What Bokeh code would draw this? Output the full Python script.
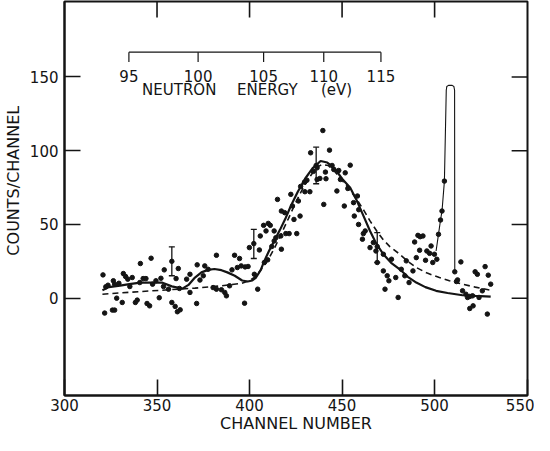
from bokeh.plotting import figure
from bokeh.models import Range1d, FixedTicker, ColumnDataSource, Whisker, TeeHead
from bokeh.embed import file_html
from bokeh.resources import INLINE
from bokeh.core.properties import value

# ---------------- data ----------------
channel = [
    320.8, 321.7, 322.3, 323.5, 325.9, 326.4, 327.1, 327.1, 328.2, 329.4,
    331.2, 331.8, 333.0, 334.2, 335.3, 336.6, 338.3, 339.3, 340.7, 341.0,
    342.5, 344.0, 344.6, 346.0, 346.8, 347.6, 349.4, 351.2, 352.1, 353.5,
    353.9, 356.2, 358.0, 358.0, 359.8, 360.3, 361.0, 361.5, 362.1, 362.5,
    366.0, 367.8, 367.8, 371.4, 371.7,
    373.2, 375.0, 375.8, 377.6, 380.3, 382.1, 382.1, 384.8, 386.6, 387.5,
    389.2, 390.5, 391.9, 393.4, 394.6, 395.5, 397.3, 397.6, 399.2, 399.9,
    402.3, 402.6, 404.4, 405.3, 405.8, 407.6, 408.0, 408.9, 409.8, 410.1,
    411.2, 412.0, 413.3, 413.3, 414.2, 415.1, 416.9, 417.2, 417.2, 419.0,
    419.6, 421.4, 422.3, 423.2, 424.0, 425.5, 426.4, 427.3, 427.6, 429.7,
    429.9, 431.0, 432.6, 433.0, 434.5, 436.0, 436.5, 436.5, 438.0, 439.6,
    440.1, 441.0, 441.3, 443.2, 444.6, 445.5, 447.2, 448.2, 449.1, 451.2,
    451.7, 453.1, 454.4, 456.2, 456.6, 458.3, 459.0, 458.9, 461.0, 461.5,
    462.5, 465.1, 466.9, 468.3, 469.0, 469.0,
    472.3, 472.3, 473.2, 474.4, 475.3, 476.7, 479.0, 480.3, 482.0, 483.9,
    484.7, 486.2, 488.3, 489.2, 490.1, 491.0, 491.9, 492.2, 493.7, 495.1,
    495.8, 497.3, 498.1, 499.0, 499.9, 501.2, 502.1, 503.2, 504.0, 505.3,
    510.9, 511.8, 512.4, 514.2, 515.1, 516.9, 517.8, 519.0, 519.0, 520.5,
    520.8, 521.9, 523.1, 524.0, 525.8, 527.3, 528.5, 529.0, 530.3,
]
counts = [
    15.8, -10.1, 7.7, 8.8, -8.1, 11.8, -8.1, 9.5, 0.0, 10.1,
    -2.9, 16.7, 14.7, 12.9, 7.9, 14.0, -2.9, -1.3, 10.6, 23.5,
    13.3, 13.3, -3.6, -5.2, 27.1, 9.5, 11.8, 0.3, 13.5, 7.9,
    19.2, 6.1, 25.0, -2.9, -5.6, 13.3, -9.2, 20.1, 6.6, -7.9,
    12.9, 16.2, 3.9, -3.6, 22.6,
    12.3, 15.2, 21.9, 19.6, 7.2, 29.1, 6.1, 5.7, 3.9, 1.6,
    8.4, 19.2, 29.1, 20.8, 26.9, 21.9, -3.4, 21.2, 21.5, 34.3,
    37.0, 16.2, 6.1, 32.7, 42.2, 49.4, 24.2, 45.6, 26.0, 50.7,
    49.4, 35.0, 45.6, 38.8, 41.0, 67.0, 42.2, 33.2, 59.1, 58.0,
    43.8, 43.8, 70.4, 62.5, 53.4, 43.8, 65.9, 55.7, 75.8, 78.7,
    72.2, 80.0, 72.2, 98.6, 86.0, 90.0, 80.5, 88.4, 81.2, 113.7,
    63.6, 85.5, 81.0, 100.4, 90.0, 87.3, 72.7, 86.6, 80.5, 62.5,
    85.0, 74.4, 90.2, 64.8, 55.7, 69.3, 60.0, 50.0, 40.0, 43.8,
    45.6, 34.3, 37.7, 32.0, 24.2, 35.0,
    29.8, 18.5, 6.1, 15.2, 11.8, 26.4, 14.0, 0.5, 19.6, 15.2,
    25.3, 10.6, 18.5, 38.1, 27.5, 42.6, 32.5, 41.7, 42.2, 25.7,
    32.0, 30.4, 35.4, 24.2, 29.8, 26.4, 43.3, 53.0, 59.1, 79.4,
    17.9, 11.3, 12.4, 24.6, 5.0, 2.7, 0.5, 1.2, -7.0, 1.6,
    -5.2, 17.9, 16.2, 0.5, 5.0, 21.4, -10.8, 15.6, 9.5,
]

solid_channel = [320.5, 324, 330, 335, 341, 347, 352.6, 358, 363.7, 367, 370.5, 374,
                 377.6, 381, 384.8, 388, 392, 396, 399, 401.5, 403.5, 406, 408, 410.5,
                 413.3, 416.5, 419.6, 422.3, 426, 430, 434, 438.4, 442, 446, 450, 454.4,
                 458, 461.5, 465.1, 468.5, 472.3, 476.5, 481.2, 485.5, 490.1, 495, 500.8,
                 507, 515.1, 522, 530.3]
solid_counts = [5.4, 7.5, 8.5, 9.5, 10.5, 10.5, 10.6, 8.0, 6.5, 9.0, 14.0, 17.5,
                19.2, 19.8, 19.0, 17.5, 15.2, 12.0, 11.3, 12.0, 14.0, 19.0, 25.3, 32.0,
                38.8, 46.5, 54.6, 62.5, 72.0, 81.0, 88.0, 93.0, 92.0, 88.0, 81.0, 74.9,
                66.0, 56.0, 45.6, 37.0, 29.8, 24.0, 19.6, 14.5, 10.6, 7.5, 5.0,
                3.5, 2.0, 1.5, 1.0]

dashed_channel = [320.5, 335, 352.6, 370.5, 384.8, 395.5, 400, 402.6, 406, 409.7, 413.5,
                  417, 421, 425, 429, 433, 436, 439.2, 442.5, 446, 450, 454.5, 458.5,
                  462, 465.1, 469, 472.3, 475.8, 481.2, 485.5, 490.1, 496, 502.6, 508,
                  515.1, 522, 530.3]
dashed_counts = [2.7, 4.0, 5.4, 6.8, 8.4, 10.0, 12.0, 14.0, 19.0, 25.3, 34.0,
                 43.3, 54.0, 65.0, 75.0, 83.0, 88.5, 90.7, 90.0, 86.0, 80.0, 73.0, 66.0,
                 59.0, 52.4, 45.0, 39.5, 35.0, 29.8, 25.0, 20.8, 17.0, 14.0, 11.8,
                 9.5, 7.5, 5.4]

spike_channel = [500.8, 502.1, 503.2, 504.0, 505.3, 506.3, 506.6, 507.5, 509.5, 510.4, 510.8, 510.9]
spike_counts = [32.0, 43.3, 53.0, 59.1, 79.4, 141.0, 143.6, 144.3, 144.3, 143.6, 141.0, 17.9]

err_channel = [358.0, 402.3, 436.0, 469.0]
err_low = [15.2, 26.9, 77.6, 24.2]
err_high = [34.8, 46.7, 102.4, 44.5]

energy_labels = [95, 100, 105, 110, 115]
energy_channel = [334.8, 372.2, 407.6, 440.1, 471.0]

x_ticks = [300, 350, 400, 450, 500, 550]
y_ticks = [0, 50, 100, 150]

# ---------------- figure ----------------
INK = "#141414"
FONT = "DejaVu Sans"

W, H = 534, 435
B_LEFT, B_RIGHT, B_TOP, B_BOTTOM = 60, 7, 1, 39
X0, X1 = 300, 550.2
Y0, Y1 = -66.0, 201.2

p = figure(width=W, height=H, output_backend="svg", toolbar_location=None,
           x_range=Range1d(X0, X1), y_range=Range1d(Y0, Y1),
           min_border_left=B_LEFT, min_border_right=B_RIGHT,
           min_border_top=B_TOP, min_border_bottom=B_BOTTOM,
           background_fill_color="white", border_fill_color="white")
p.xgrid.visible = False
p.ygrid.visible = False
p.outline_line_color = INK
p.outline_line_width = 2

TICK = 16
for ax in (p.xaxis[0], p.yaxis[0]):
    ax.major_tick_in = TICK
    ax.major_tick_out = 0
    ax.minor_tick_in = 0
    ax.minor_tick_out = 0
    ax.axis_line_color = INK
    ax.axis_line_width = 2
    ax.major_tick_line_color = INK
    ax.major_tick_line_width = 1.6
    ax.major_label_text_font = FONT
    ax.major_label_text_font_size = "15px"
    ax.major_label_text_color = INK
    ax.axis_label_text_font = FONT
    ax.axis_label_text_font_size = "16px"
    ax.axis_label_text_font_style = "normal"
    ax.axis_label_text_color = INK

p.xaxis.ticker = FixedTicker(ticks=x_ticks)
p.yaxis.ticker = FixedTicker(ticks=y_ticks)
p.xaxis.axis_label = "CHANNEL NUMBER"
# leading no-break spaces lift the title a little above the frame centre, as in the original
p.yaxis.axis_label = "\u00a0" * 7 + "COUNTS/CHANNEL"
p.xaxis.major_label_standoff = 3
p.xaxis.axis_label_standoff = 0
p.yaxis.major_label_standoff = 6
p.yaxis.axis_label_standoff = 4

frame_w = W - B_LEFT - B_RIGHT
frame_h = H - B_TOP - B_BOTTOM
ux = (X1 - X0) / frame_w   # data units per pixel
uy = (Y1 - Y0) / frame_h

# inward ticks on the top and right frame edges
dx = TICK * ux
dy = TICK * uy
top_ticks = x_ticks[1:-1]
p.segment(x0=top_ticks, y0=[Y1] * len(top_ticks), x1=top_ticks, y1=[Y1 - dy] * len(top_ticks),
          line_color=INK, line_width=1.6)
p.segment(x0=[X1] * len(y_ticks), y0=y_ticks, x1=[X1 - dx] * len(y_ticks), y1=y_ticks,
          line_color=INK, line_width=1.6)

# fitted curves
p.line(solid_channel, solid_counts, line_color=INK, line_width=2.2)
p.line(dashed_channel, dashed_counts, line_color=INK, line_width=1.6, line_dash="6 4")

# narrow peak trace
p.line(spike_channel, spike_counts, line_color=INK, line_width=1.1)

# data points
p.scatter(channel, counts, size=4.5, marker="circle", fill_color=INK, line_color=INK)

# error bars
src = ColumnDataSource(dict(base=err_channel, lower=err_low, upper=err_high))
p.add_layout(Whisker(base="base", lower="lower", upper="upper", source=src, dimension="height",
                     line_color=INK, line_width=1.3,
                     upper_head=TeeHead(size=6, line_color=INK, line_width=1.3),
                     lower_head=TeeHead(size=6, line_color=INK, line_width=1.3)))

# neutron energy scale
E_LINE = 166.8
E_TICK = 160.2
p.line([energy_channel[0], energy_channel[-1]], [E_LINE, E_LINE], line_color=INK, line_width=1.2)
p.segment(x0=energy_channel, y0=[E_LINE] * len(energy_channel),
          x1=energy_channel, y1=[E_TICK] * len(energy_channel), line_color=INK, line_width=1.2)
p.text(x=energy_channel, y=[150.7] * len(energy_channel), text=[str(e) for e in energy_labels],
       text_align="center", text_baseline="middle", text_font=value(FONT),
       text_font_size="15px", text_color=INK)
p.text(x=[362.0, 409.6, 447.0], y=[141.2] * 3, text=["NEUTRON", "ENERGY", "(eV)"],
       text_align="center", text_baseline="middle", text_font=value(FONT),
       text_font_size="15px", text_color=INK)

open("out.html", "w").write(file_html(p, INLINE))
